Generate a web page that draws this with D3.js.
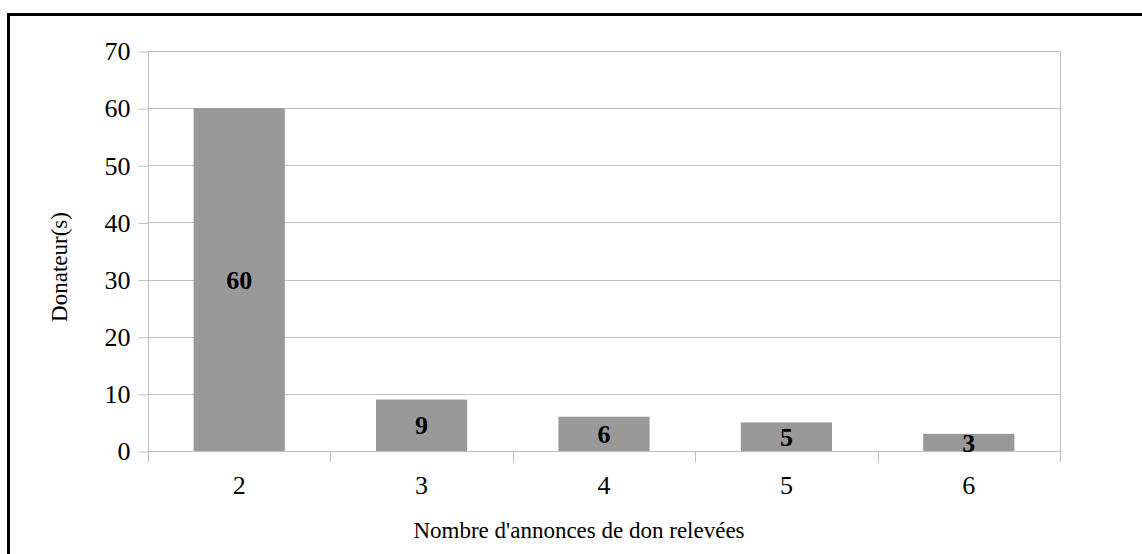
<!DOCTYPE html>
<html>
<head>
<meta charset="utf-8">
<script src="https://cdn.jsdelivr.net/npm/d3@7"></script>
<style>
  html, body { margin: 0; padding: 0; background: #fff; }
  svg { display: block; }
  svg text { font-family: "Liberation Serif", "Times New Roman", serif !important; fill: #000; }
</style>
</head>
<body>
<svg id="chart" width="1142" height="554"></svg>
<script>
const categories = ["2", "3", "4", "5", "6"];
const values = [60, 9, 6, 5, 3];
const yTicks = [0, 10, 20, 30, 40, 50, 60, 70];
const xTitle = "Nombre d'annonces de don relevées";
const yTitle = "Donateur(s)";

(function () {
const svg = d3.select("#chart");
const pLeft = 148, pRight = 1060, pTop = 51, pBottom = 451;
const grid = "#c0c0c0";
const serif = '"Liberation Serif", "Times New Roman", serif';

// outer frame (only top/left visible in window)
svg.append("rect")
  .attr("x", 8.5).attr("y", 14.5)
  .attr("width", 1300).attr("height", 800)
  .attr("fill", "none").attr("stroke", "#000").attr("stroke-width", 3);

const x = d3.scaleBand().domain(categories).range([pLeft, pRight]).paddingInner(0).paddingOuter(0);
const y = d3.scaleLinear().domain([0, 70]).range([pBottom, pTop]);

// gridlines
svg.append("g").selectAll("line").data(yTicks.filter(d => d !== 0)).join("line")
  .attr("x1", pLeft).attr("x2", pRight)
  .attr("y1", d => Math.round(y(d)) + 0.5).attr("y2", d => Math.round(y(d)) + 0.5)
  .attr("stroke", grid).attr("stroke-width", 1);

// right border
svg.append("line")
  .attr("x1", pRight + 0.5).attr("x2", pRight + 0.5)
  .attr("y1", pTop).attr("y2", pBottom + 11)
  .attr("stroke", grid);

// y axis
const yAxis = d3.axisLeft(y).tickValues(yTicks).tickSize(10).tickPadding(8).tickFormat(d3.format("d"));
const gy = svg.append("g").attr("transform", `translate(${pLeft + 0.5},0.5)`).call(yAxis);
gy.attr("font-family", serif).attr("font-size", 26);
gy.select(".domain").attr("stroke", grid).attr("d", `M0,${pTop}V${pBottom + 11}`);
gy.selectAll(".tick line").attr("stroke", grid);
gy.selectAll(".tick text").style("font-family", serif).style("font-size", "26px").attr("fill", "#000");

// bars
svg.append("g").selectAll("rect").data(values).join("rect")
  .attr("x", (d, i) => x(categories[i]) + x.bandwidth() / 4)
  .attr("width", x.bandwidth() / 2)
  .attr("y", d => y(d))
  .attr("height", d => y(0) - y(d))
  .attr("fill", "#999999");

// x axis
const xAxis = d3.axisBottom(x).tickSize(0).tickPadding(24);
const gx = svg.append("g").attr("transform", `translate(0,${pBottom + 0.5})`).call(xAxis);
gx.attr("font-family", serif).attr("font-size", 26);
gx.select(".domain").attr("stroke", grid).attr("d", `M${pLeft},0H${pRight}`);
gx.selectAll(".tick text").style("font-family", serif).style("font-size", "26px").attr("fill", "#000");
// category boundary ticks
const bounds = categories.map(c => x(c)).concat([pRight]);
gx.append("g").selectAll("line").data(bounds).join("line")
  .attr("x1", d => Math.round(d) + 0.5).attr("x2", d => Math.round(d) + 0.5)
  .attr("y1", 0).attr("y2", 11).attr("stroke", grid);

// data labels
svg.append("g").selectAll("text").data(values).join("text")
  .attr("x", (d, i) => x(categories[i]) + x.bandwidth() / 2)
  .attr("y", d => y(d / 2))
  .attr("dy", "0.35em")
  .attr("text-anchor", "middle")
  .style("font-family", serif)
  .style("font-size", "26px").style("font-weight", "bold")
  .text(d => d);

// axis titles
svg.append("text")
  .attr("x", 579).attr("y", 538)
  .attr("text-anchor", "middle")
  .style("font-family", serif).style("font-size", "23px")
  .text(xTitle);

svg.append("text")
  .attr("transform", "translate(67,267) rotate(-90)")
  .attr("text-anchor", "middle")
  .style("font-family", serif).style("font-size", "23px")
  .text(yTitle);
})();
</script>
</body>
</html>
